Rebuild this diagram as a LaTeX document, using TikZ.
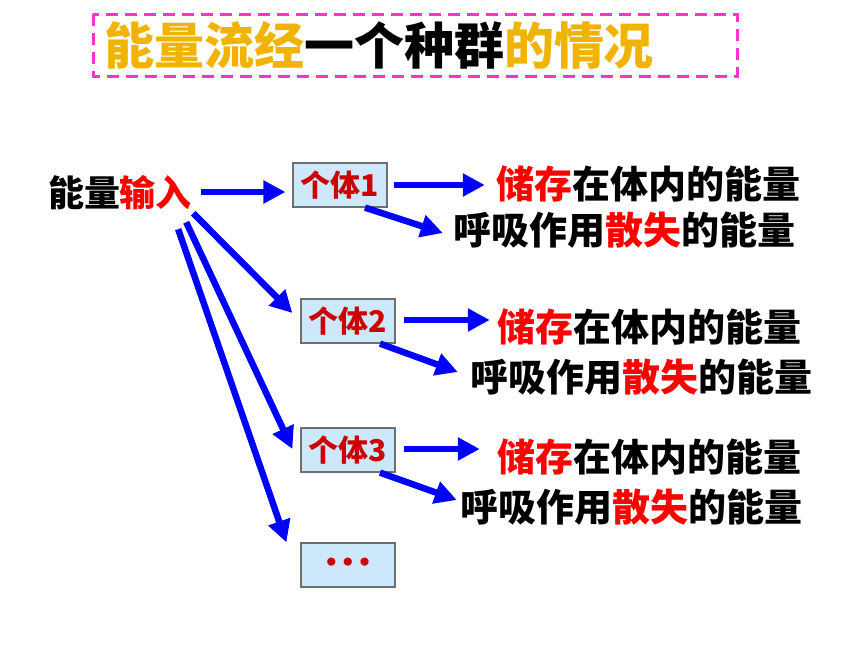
\documentclass[tikz,border=0pt]{standalone}
\usepackage{fontspec}
\usetikzlibrary{arrows.meta}
\newfontfamily\cjk{Noto Sans CJK SC}
\newfontfamily\dejavu{DejaVu Sans}
\definecolor{gold}{RGB}{240,180,0}
\definecolor{boxblue}{RGB}{204,232,250}
\definecolor{boxgray}{RGB}{110,110,110}
\definecolor{darkred}{RGB}{204,0,0}
\definecolor{pink}{RGB}{255,51,204}
\begin{document}
\begin{tikzpicture}
        [x=1pt, y=-1pt,
        ind/.style={draw=boxgray, fill=boxblue, line width=1.2pt, minimum width=94pt, minimum height=44pt, inner sep=0pt, text=darkred, font=\cjk\bfseries\fontsize{30}{30}\selectfont},
        txt/.style={inner sep=0pt, text height=33pt, text depth=5pt, font=\cjk\bfseries\fontsize{38}{38}\selectfont},
        edge/.style={line width=6.5pt, blue, -{Triangle[length=22pt,width=22pt]}},
        titlebox/.style={pink, line width=3pt, dash pattern=on 12pt off 7pt}]

        \useasboundingbox (0,0) rectangle (860,645);

        % title
        \node[txt, text height=44pt, text depth=6pt, font=\cjk\bfseries\fontsize{50}{50}\selectfont] (title) at (379,45)
            {\textcolor{gold}{能量流经}一个种群\textcolor{gold}{的情况}};
        \draw[titlebox] (93,14) rectangle (737,76);

        % energy input and the individuals
        \node[txt, text height=31pt, text depth=5pt, font=\cjk\bfseries\fontsize{36}{36}\selectfont] (input) at (120,193) {能量\textcolor{red}{输入}};
        \node[ind] (g1) at (340,185) {个体1};
        \node[ind] (g2) at (348,321) {个体2};
        \node[ind] (g3) at (348,450) {个体3};
        \node[ind, font=\dejavu\fontsize{28}{28}\selectfont] (gdots) at (348,565) {•••};

        % stored and respired energy
        \node[txt] (s1) at (648,184) {\textcolor{red}{储存}在体内的能量};
        \node[txt] (r1) at (624,230) {呼吸作用\textcolor{red}{散失}的能量};
        \node[txt] (s2) at (649,327) {\textcolor{red}{储存}在体内的能量};
        \node[txt] (r2) at (641,377) {呼吸作用\textcolor{red}{散失}的能量};
        \node[txt] (s3) at (649,457) {\textcolor{red}{储存}在体内的能量};
        \node[txt] (r3) at (631,507) {呼吸作用\textcolor{red}{散失}的能量};

        % input arrows
        \draw[edge] ([xshift=9pt,yshift=1pt]input.east) -- ([xshift=-7pt,yshift=-7pt]g1.west);
        \draw[edge] ([xshift=1pt,yshift=-2pt]input.south east) -- ([xshift=-8pt,yshift=8pt]g2.west);
        \draw[edge] ([xshift=-6pt,yshift=-11pt]input.south east) -- ([xshift=-8pt,yshift=1pt]g3.west);
        \draw[edge] ([xshift=-14pt,yshift=-18pt]input.south east) -- ([xshift=-14pt]gdots.north west);

        % arrows out of each individual
        \draw[edge] ([xshift=6pt]g1.east) -- ([xshift=-11pt,yshift=-1pt]s1.west);
        \draw[edge] ([xshift=25pt]g1.south) -- ([xshift=-10pt,yshift=-3pt]r1.west);
        \draw[edge] ([xshift=8pt,yshift=1pt]g2.east) -- ([xshift=-7pt,yshift=7pt]s2.west);
        \draw[edge] ([xshift=32pt]g2.south) -- ([xshift=-12pt,yshift=5pt]r2.west);
        \draw[edge] ([xshift=8pt,yshift=1pt]g3.east) -- ([xshift=-17pt,yshift=8pt]s3.west);
        \draw[edge] ([xshift=32pt]g3.south) -- ([xshift=-3pt,yshift=7pt]r3.west);

        \end{tikzpicture}
\end{document}
